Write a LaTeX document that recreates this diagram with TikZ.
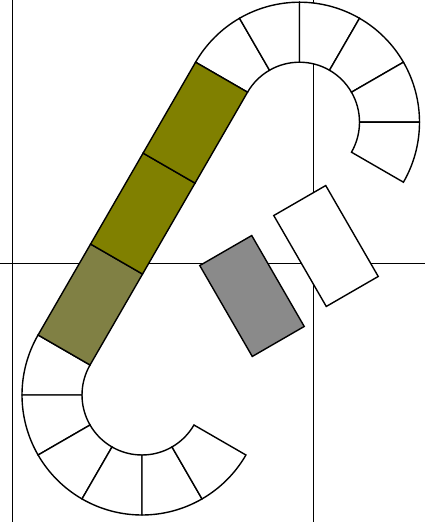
\documentclass[tikz,border=0pt]{standalone}
\usepackage{tikz}
\usetikzlibrary{calc}
\definecolor{cOlive}{HTML}{808000}
\definecolor{cOliveL}{HTML}{808044}
\definecolor{cGrey}{HTML}{8A8A8A}

\begin{document}
\begin{tikzpicture}[
  x=1pt, y=1pt,
  axis/.style={line width=0.9pt, draw=black},
  seg/.style={draw, fill=white, line width=1.4pt, line join=miter},
  tile/.style={draw, line width=1.4pt, inner sep=0pt, outer sep=0pt,
               minimum width=105pt, minimum height=60pt}
]
\def\ri{60}   % inner radius of the bends
\def\ro{120}  % outer radius of the bends
\useasboundingbox (0,0) rectangle (425,522);

% AXES
\coordinate (vlA) at (12,522);  \coordinate (vlAe) at (12,0);
\coordinate (vlB) at (313,522); \coordinate (vlBe) at (313,0);
\coordinate (hl)  at (0,259);   \coordinate (hle)  at (425,259);
\draw[axis] (vlA) -- (vlAe);
\draw[axis] (vlB) -- (vlBe);
\draw[axis] (hl) -- (hle);

% BEND CENTRES
\coordinate (cbot) at (142,127);
\coordinate (ctop) at ($(cbot)+(60:315)$);

% TOP BEND (150 -> -30)
\draw[seg] ($(ctop)+(150:\ri)$) arc[start angle=150, end angle=120, radius=\ri] -- ($(ctop)+(120:\ro)$) arc[start angle=120, end angle=150, radius=\ro] -- cycle;
\draw[seg] ($(ctop)+(120:\ri)$) arc[start angle=120, end angle=90, radius=\ri] -- ($(ctop)+(90:\ro)$) arc[start angle=90, end angle=120, radius=\ro] -- cycle;
\draw[seg] ($(ctop)+(90:\ri)$) arc[start angle=90, end angle=60, radius=\ri] -- ($(ctop)+(60:\ro)$) arc[start angle=60, end angle=90, radius=\ro] -- cycle;
\draw[seg] ($(ctop)+(60:\ri)$) arc[start angle=60, end angle=30, radius=\ri] -- ($(ctop)+(30:\ro)$) arc[start angle=30, end angle=60, radius=\ro] -- cycle;
\draw[seg] ($(ctop)+(30:\ri)$) arc[start angle=30, end angle=0, radius=\ri] -- ($(ctop)+(0:\ro)$) arc[start angle=0, end angle=30, radius=\ro] -- cycle;
\draw[seg] ($(ctop)+(0:\ri)$) arc[start angle=0, end angle=-30, radius=\ri] -- ($(ctop)+(-30:\ro)$) arc[start angle=-30, end angle=0, radius=\ro] -- cycle;

% BOTTOM BEND (150 -> 330)
\draw[seg] ($(cbot)+(150:\ri)$) arc[start angle=150, end angle=180, radius=\ri] -- ($(cbot)+(180:\ro)$) arc[start angle=180, end angle=150, radius=\ro] -- cycle;
\draw[seg] ($(cbot)+(180:\ri)$) arc[start angle=180, end angle=210, radius=\ri] -- ($(cbot)+(210:\ro)$) arc[start angle=210, end angle=180, radius=\ro] -- cycle;
\draw[seg] ($(cbot)+(210:\ri)$) arc[start angle=210, end angle=240, radius=\ri] -- ($(cbot)+(240:\ro)$) arc[start angle=240, end angle=210, radius=\ro] -- cycle;
\draw[seg] ($(cbot)+(240:\ri)$) arc[start angle=240, end angle=270, radius=\ri] -- ($(cbot)+(270:\ro)$) arc[start angle=270, end angle=240, radius=\ro] -- cycle;
\draw[seg] ($(cbot)+(270:\ri)$) arc[start angle=270, end angle=300, radius=\ri] -- ($(cbot)+(300:\ro)$) arc[start angle=300, end angle=270, radius=\ro] -- cycle;
\draw[seg] ($(cbot)+(300:\ri)$) arc[start angle=300, end angle=330, radius=\ri] -- ($(cbot)+(330:\ro)$) arc[start angle=330, end angle=300, radius=\ro] -- cycle;

% STRAIGHT BAND
\node[tile, fill=cOliveL, rotate=60] (s1) at ($(cbot)+(150:90)+(60:52.5)$) {};
\node[tile, fill=cOlive, rotate=60]  (s2) at ($(cbot)+(150:90)+(60:157.5)$) {};
\node[tile, fill=cOlive, rotate=60]  (s3) at ($(cbot)+(150:90)+(60:262.5)$) {};

% LOOSE TILES
\node[tile, fill=cGrey, rotate=120] (t1) at (252,226) {};
\node[tile, fill=white, rotate=120] (t2) at (326,276) {};

\end{tikzpicture}
\end{document}
